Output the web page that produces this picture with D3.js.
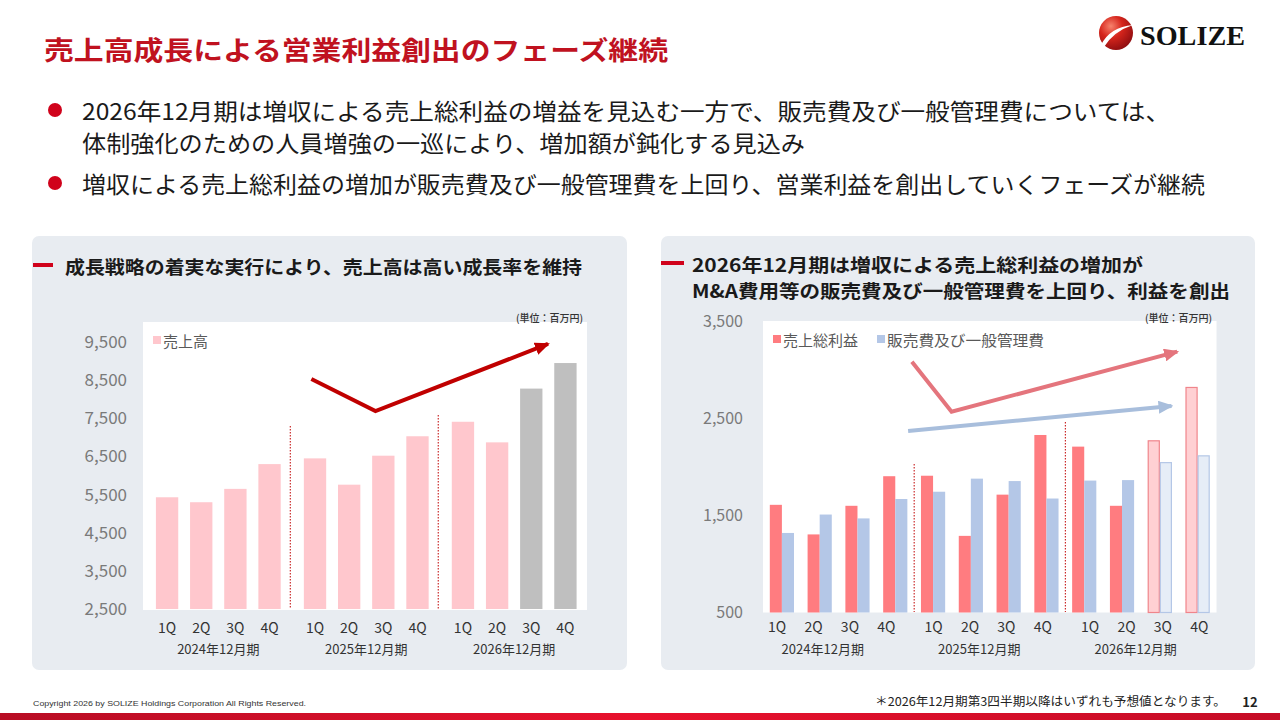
<!DOCTYPE html>
<html><head><meta charset="utf-8">
<script src="https://cdn.jsdelivr.net/npm/d3@7"></script>
<style>
body{margin:0;background:#fff;}
svg{display:block;font-family:"Noto Sans CJK JP","Noto Sans",sans-serif;}
</style>
</head><body>
<svg id="c" width="1280" height="720"></svg>
<script>
// ---------- data ----------
const years = ["2024年12月期", "2025年12月期", "2026年12月期"];
const quarters = ["1Q", "2Q", "3Q", "4Q"];
const sales = [5430, 5300, 5650, 6300, 6450, 5760, 6520, 7030, 7410, 6870, 8280, 8950];
const grossProfit = [1610, 1305, 1600, 1905, 1910, 1290, 1715, 2330, 2210, 1600, 2270, 2820];
const sga = [1320, 1510, 1470, 1670, 1745, 1880, 1855, 1675, 1860, 1865, 2045, 2115];
const forecastFrom = 10; // index of first forecast quarter (2026 3Q)
const salesTicks = [2500, 3500, 4500, 5500, 6500, 7500, 8500, 9500];
const profitTicks = [500, 1500, 2500, 3500];
const seriesNames = ["売上高", "売上総利益", "販売費及び一般管理費"];
// trend annotations: [category index (fractional), value]
const salesTrend = [[3.92, 8530], [5.77, 7690], [10.49, 9450]];
const profitTrend = [[3.44, 3086], [4.49, 2570], [10.46, 3189]];
const sgaTrend = [[3.34, 2371], [10.31, 2629]];

const cats = [];
years.forEach((y, gi) => quarters.forEach((q, qi) => cats.push({year: y, q: q, key: y + q, i: gi * 4 + qi})));

const svg = d3.select("#c");
const defs = svg.append("defs");

// gradients
const bg = defs.append("linearGradient").attr("id", "bottomBar").attr("x1", "0").attr("x2", "1");
bg.append("stop").attr("offset", "0").attr("stop-color", "#b80d24");
bg.append("stop").attr("offset", "0.5").attr("stop-color", "#e8112d");
bg.append("stop").attr("offset", "1").attr("stop-color", "#c50c26");
const sph = defs.append("radialGradient").attr("id", "sphere").attr("cx", "0.35").attr("cy", "0.3").attr("r", "0.75");
sph.append("stop").attr("offset", "0").attr("stop-color", "#f7836d");
sph.append("stop").attr("offset", "0.45").attr("stop-color", "#d6251c");
sph.append("stop").attr("offset", "1").attr("stop-color", "#8e0d10");

function marker(id, color, w, h) {
  defs.append("marker").attr("id", id).attr("markerUnits", "userSpaceOnUse")
    .attr("markerWidth", w).attr("markerHeight", h).attr("refX", w - 2).attr("refY", h / 2)
    .attr("orient", "auto")
    .append("path").attr("d", `M0,0 L${w},${h / 2} L0,${h} Z`).attr("fill", color);
}
marker("arRed", "#c00000", 15, 13);
marker("arPink", "#e4757d", 15, 13);
marker("arBlue", "#a8bedc", 15, 13);

// ---------- header ----------
svg.append("text").attr("x", 44).attr("y", 48).attr("dominant-baseline", "central")
  .attr("font-size", 26).attr("font-weight", 700).attr("fill", "#c0121f")
  .attr("textLength", 624).attr("lengthAdjust", "spacingAndGlyphs")
  .text("売上高成長による営業利益創出のフェーズ継続");

// logo
svg.append("circle").attr("cx", 1116).attr("cy", 33).attr("r", 17).attr("fill", "url(#sphere)");
svg.append("path").attr("d", "M1101,45 Q1110,27 1133,25 Q1114,31 1104,47 Z").attr("fill", "#fff");
svg.append("text").attr("x", 1140).attr("y", 36).attr("dominant-baseline", "central")
  .attr("font-family", "Liberation Serif").attr("font-weight", 700).attr("font-size", 27)
  .attr("fill", "#111").attr("textLength", 105).attr("lengthAdjust", "spacingAndGlyphs").text("SOLIZE");

// bullets
const bullets = [
  {t: "2026年12月期は増収による売上総利益の増益を見込む一方で、販売費及び一般管理費については、", y: 110, w: 1088, dot: true},
  {t: "体制強化のための人員増強の一巡により、増加額が鈍化する見込み", y: 142, w: 723, dot: false},
  {t: "増収による売上総利益の増加が販売費及び一般管理費を上回り、営業利益を創出していくフェーズが継続", y: 183, w: 1123, dot: true}
];
bullets.forEach(b => {
  if (b.dot) svg.append("circle").attr("cx", 55).attr("cy", b.y).attr("r", 7).attr("fill", "#d0021b");
  svg.append("text").attr("x", 82).attr("y", b.y).attr("dominant-baseline", "central")
    .attr("font-size", 23).attr("fill", "#1a1a1a").attr("textLength", b.w).attr("lengthAdjust", "spacingAndGlyphs").text(b.t);
});

// panels
[[32, 236, 595, 434], [661, 236, 594, 434]].forEach(p => {
  svg.append("rect").attr("x", p[0]).attr("y", p[1]).attr("width", p[2]).attr("height", p[3])
    .attr("rx", 7).attr("fill", "#e8ecf1");
});

// panel titles
svg.append("rect").attr("x", 33).attr("y", 263).attr("width", 20).attr("height", 4).attr("fill", "#d0021b");
svg.append("text").attr("x", 65).attr("y", 266).attr("dominant-baseline", "central")
  .attr("font-size", 18).attr("font-weight", 700).attr("fill", "#1a1a1a")
  .attr("textLength", 517).attr("lengthAdjust", "spacingAndGlyphs")
  .text("成長戦略の着実な実行により、売上高は高い成長率を維持");
svg.append("rect").attr("x", 661).attr("y", 261).attr("width", 23).attr("height", 4).attr("fill", "#d0021b");
svg.append("text").attr("x", 692).attr("y", 264).attr("dominant-baseline", "central")
  .attr("font-size", 18).attr("font-weight", 700).attr("fill", "#1a1a1a")
  .attr("textLength", 451).attr("lengthAdjust", "spacingAndGlyphs")
  .text("2026年12月期は増収による売上総利益の増加が");
svg.append("text").attr("x", 692).attr("y", 290).attr("dominant-baseline", "central")
  .attr("font-size", 18).attr("font-weight", 700).attr("fill", "#1a1a1a")
  .attr("textLength", 538).attr("lengthAdjust", "spacingAndGlyphs")
  .text("M&A費用等の販売費及び一般管理費を上回り、利益を創出");

// ---------- left chart ----------
const L = {x0: 143, x1: 587, y0: 322, y1: 610};
const g1 = svg.append("g");
g1.append("rect").attr("x", L.x0).attr("y", L.y0).attr("width", L.x1 - L.x0).attr("height", L.y1 - L.y0).attr("fill", "#fff");
const ySales = d3.scaleLinear().domain([2500, 10000]).range([609, 323]);
const xYear = d3.scaleBand().domain(years).range([150, 582.5]).paddingInner(0.0765).paddingOuter(0);
const xQ = d3.scaleBand().domain(quarters).range([0, xYear.bandwidth()]).paddingInner(0.346).paddingOuter(0.173);
const xSalesCenter = c => xYear(c.year) + xQ(c.q) + xQ.bandwidth() / 2;
const idxToXL = d3.scaleLinear().domain(cats.map(c => c.i)).range(cats.map(xSalesCenter));

const yAxL = g1.append("g").attr("transform", `translate(${L.x0},0)`)
  .call(d3.axisLeft(ySales).tickValues(salesTicks).tickFormat(d3.format(",")).tickSize(0).tickPadding(16));
yAxL.select(".domain").remove();
yAxL.selectAll("text").attr("font-size", 17).attr("fill", "#7a7a7a").attr("font-family", "Noto Sans CJK JP");

g1.selectAll("rect.bar").data(cats).join("rect").attr("class", "bar")
  .attr("x", c => xYear(c.year) + xQ(c.q)).attr("width", xQ.bandwidth())
  .attr("y", c => ySales(sales[c.i])).attr("height", c => ySales(2500) - ySales(sales[c.i]))
  .attr("fill", c => c.i >= forecastFrom ? "#bfbfbf" : "#ffc7cd");

// dividers
[[1, 426], [2, 415]].forEach(([gi, top]) => {
  const x = (xYear(years[gi - 1]) + xYear.bandwidth() + xYear(years[gi])) / 2 - 2;
  g1.append("line").attr("x1", x).attr("x2", x).attr("y1", top).attr("y2", 609)
    .attr("stroke", "#c00000").attr("stroke-width", 1).attr("stroke-dasharray", "1.5,1.5");
});

g1.selectAll("text.q").data(cats).join("text").attr("class", "q")
  .attr("x", xSalesCenter).attr("y", 627).attr("text-anchor", "middle").attr("dominant-baseline", "central")
  .attr("font-size", 14).attr("fill", "#333").text(c => c.q);
g1.selectAll("text.yr").data(years).join("text").attr("class", "yr")
  .attr("x", y => xYear(y) + xYear.bandwidth() / 2).attr("y", 648).attr("text-anchor", "middle")
  .attr("dominant-baseline", "central").attr("font-size", 13).attr("fill", "#333").text(y => y);

// legend + unit
g1.append("rect").attr("x", 153).attr("y", 336).attr("width", 8).attr("height", 8).attr("fill", "#ffc7cd");
g1.append("text").attr("x", 163).attr("y", 340).attr("dominant-baseline", "central")
  .attr("font-size", 15).attr("fill", "#595959").text(seriesNames[0]);
g1.append("text").attr("x", 583).attr("y", 317).attr("text-anchor", "end").attr("dominant-baseline", "central")
  .attr("font-size", 10).attr("font-weight", 500).attr("fill", "#333").text("(単位：百万円)");

// trend arrow
g1.append("path").attr("d", d3.line().x(d => idxToXL(d[0])).y(d => ySales(d[1]))(salesTrend))
  .attr("fill", "none").attr("stroke", "#c00000").attr("stroke-width", 4)
  .attr("stroke-linejoin", "miter").attr("marker-end", "url(#arRed)");

// ---------- right chart ----------
const R = {x0: 763, x1: 1216.5, y0: 321, y1: 612.5};
const g2 = svg.append("g");
g2.append("rect").attr("x", R.x0).attr("y", R.y0).attr("width", R.x1 - R.x0).attr("height", R.y1 - R.y0).attr("fill", "#fff");
const yProf = d3.scaleLinear().domain([500, 3500]).range([612.5, 321.5]);
const xCat = d3.scaleBand().domain(cats.map(c => c.key)).range([R.x0, R.x1]).paddingInner(0.36).paddingOuter(0.18);
const xSer = d3.scaleBand().domain(["gp", "sga"]).range([0, xCat.bandwidth()]);
const idxToXR = d3.scaleLinear().domain([0, 11]).range([xCat(cats[0].key) + xCat.bandwidth() / 2, xCat(cats[11].key) + xCat.bandwidth() / 2]);

const yAxR = g2.append("g").attr("transform", `translate(${R.x0},0)`)
  .call(d3.axisLeft(yProf).tickValues(profitTicks).tickFormat(d3.format(",")).tickSize(0).tickPadding(20));
yAxR.select(".domain").remove();
yAxR.selectAll("text").attr("font-size", 16).attr("fill", "#7a7a7a").attr("font-family", "Noto Sans CJK JP");

const series = [
  {k: "gp", vals: grossProfit, fill: "#ff7c80", ffill: "#ffd0d3", fstroke: "#f0858b"},
  {k: "sga", vals: sga, fill: "#b4c7e7", ffill: "#e6edf7", fstroke: "#b4c7e7"}
];
series.forEach(s => {
  g2.selectAll("rect.b" + s.k).data(cats).join("rect").attr("class", "b" + s.k)
    .attr("x", c => xCat(c.key) + xSer(s.k) + (c.i >= forecastFrom ? 0.5 : 0))
    .attr("width", c => xSer.bandwidth() - (c.i >= forecastFrom ? 1 : 0))
    .attr("y", c => yProf(s.vals[c.i])).attr("height", c => yProf(500) - yProf(s.vals[c.i]))
    .attr("fill", c => c.i >= forecastFrom ? s.ffill : s.fill)
    .attr("stroke", c => c.i >= forecastFrom ? s.fstroke : "none").attr("stroke-width", 1.2);
});

[4, 8].forEach((ci, n) => {
  const x = (xCat(cats[ci - 1].key) + xCat.bandwidth() + xCat(cats[ci].key)) / 2;
  g2.append("line").attr("x1", x).attr("x2", x).attr("y1", n === 0 ? 464 : 422).attr("y2", 612)
    .attr("stroke", "#c00000").attr("stroke-width", 1).attr("stroke-dasharray", "1.5,1.5");
});

// category labels (grouped layout like the reference)
const xYearR = d3.scaleBand().domain(years).range([759, 1217.5]).paddingInner(0.07).paddingOuter(0);
const xQR = d3.scaleBand().domain(quarters).range([0, xYearR.bandwidth()]);
g2.selectAll("text.q").data(cats).join("text").attr("class", "q")
  .attr("x", c => xYearR(c.year) + xQR(c.q) + xQR.bandwidth() / 2).attr("y", 626)
  .attr("text-anchor", "middle").attr("dominant-baseline", "central")
  .attr("font-size", 14).attr("fill", "#333").text(c => c.q);
g2.selectAll("text.yr").data(years).join("text").attr("class", "yr")
  .attr("x", y => xYearR(y) + xYearR.bandwidth() / 2 - 9).attr("y", 648).attr("text-anchor", "middle")
  .attr("dominant-baseline", "central").attr("font-size", 13).attr("fill", "#333").text(y => y);

// legend
g2.append("rect").attr("x", 773).attr("y", 335).attr("width", 8).attr("height", 8).attr("fill", "#ff7c80");
g2.append("text").attr("x", 783).attr("y", 339).attr("dominant-baseline", "central")
  .attr("font-size", 15).attr("fill", "#595959").text(seriesNames[1]);
g2.append("rect").attr("x", 877).attr("y", 335).attr("width", 8).attr("height", 8).attr("fill", "#b4c7e7");
g2.append("text").attr("x", 887).attr("y", 339).attr("dominant-baseline", "central")
  .attr("font-size", 15).attr("fill", "#595959").attr("textLength", 157).attr("lengthAdjust", "spacingAndGlyphs").text(seriesNames[2]);
g2.append("text").attr("x", 1212).attr("y", 317).attr("text-anchor", "end").attr("dominant-baseline", "central")
  .attr("font-size", 10).attr("font-weight", 500).attr("fill", "#333").text("(単位：百万円)");

// trend arrows
g2.append("path").attr("d", d3.line().x(d => idxToXR(d[0])).y(d => yProf(d[1]))(profitTrend))
  .attr("fill", "none").attr("stroke", "#e4757d").attr("stroke-width", 4).attr("marker-end", "url(#arPink)");
g2.append("path").attr("d", d3.line().x(d => idxToXR(d[0])).y(d => yProf(d[1]))(sgaTrend))
  .attr("fill", "none").attr("stroke", "#a8bedc").attr("stroke-width", 4).attr("marker-end", "url(#arBlue)");

// ---------- footer ----------
svg.append("text").attr("x", 33).attr("y", 703).attr("dominant-baseline", "central")
  .attr("font-family", "Liberation Sans Narrow, Liberation Sans").attr("font-size", 8).attr("fill", "#333")
  .attr("textLength", 273).attr("lengthAdjust", "spacingAndGlyphs")
  .text("Copyright 2026 by SOLIZE Holdings Corporation All Rights Reserved.");
svg.append("text").attr("x", 875).attr("y", 700).attr("dominant-baseline", "central")
  .attr("font-size", 12).attr("fill", "#222").attr("textLength", 351).attr("lengthAdjust", "spacingAndGlyphs")
  .text("＊2026年12月期第3四半期以降はいずれも予想値となります。");
svg.append("text").attr("x", 1250).attr("y", 701).attr("text-anchor", "middle").attr("dominant-baseline", "central")
  .attr("font-size", 13).attr("font-weight", 700).attr("fill", "#222").text("12");
svg.append("rect").attr("x", 0).attr("y", 713).attr("width", 1280).attr("height", 7).attr("fill", "url(#bottomBar)");
</script>
</body></html>
